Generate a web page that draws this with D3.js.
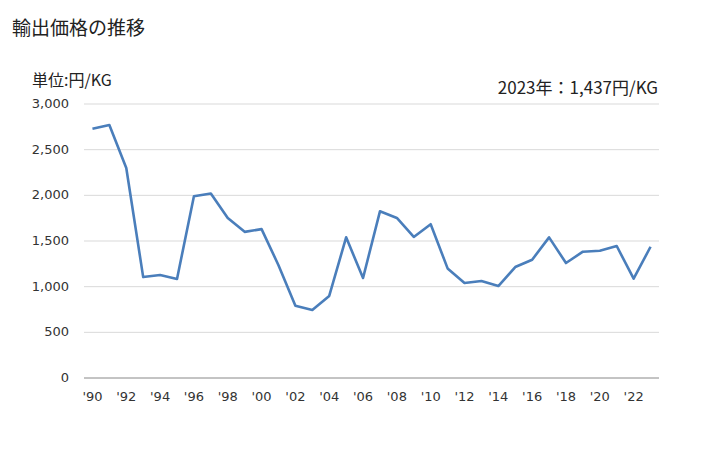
<!DOCTYPE html>
<html><head><meta charset="utf-8">
<script src="https://cdn.jsdelivr.net/npm/d3@7"></script>
<style>body{margin:0;background:#fff;font-family:"Noto Sans CJK JP","Noto Sans",sans-serif;}</style>
</head><body>
<svg id="c" width="728" height="450"></svg>
<script>
const years = d3.range(1990, 2024);
const values = [2730,2770,2300,1105,1128,1085,1990,2020,1752,1600,1630,1235,790,745,898,1540,1095,1825,1752,1544,1684,1200,1040,1062,1007,1215,1295,1540,1259,1383,1394,1445,1087,1437];
const yTicks = [0,500,1000,1500,2000,2500,3000];
const title = "輸出価格の推移";
const unitLabel = "単位:円/KG";
const note = "2023年：1,437円/KG";

(function(){
const svg = d3.select("#c");
const mL = 84, mR = 659, mT = 104, mB = 378;
const x = d3.scaleBand().domain(years).range([mL, mR]);
const y = d3.scaleLinear().domain([0, 3000]).range([mB, mT]);

svg.append("text").attr("x", 12).attr("y", 35).attr("font-size", 19).attr("fill", "#222").text(title);
svg.append("text").attr("x", 32).attr("y", 86).attr("font-size", 16).attr("fill", "#222").text(unitLabel);
svg.append("text").attr("x", 658).attr("y", 94).attr("text-anchor", "end").attr("font-size", 17).attr("fill", "#222").text(note);

const grid = svg.append("g");
grid.selectAll("line").data(yTicks.filter(d => d > 0)).join("line")
  .attr("x1", mL).attr("x2", mR)
  .attr("y1", d => y(d)).attr("y2", d => y(d))
  .attr("stroke", "#d9d9d9").attr("stroke-width", 1);
svg.append("line").attr("x1", mL).attr("x2", mR).attr("y1", y(0)).attr("y2", y(0))
  .attr("stroke", "#888").attr("stroke-width", 1);

svg.append("g").selectAll("text").data(yTicks).join("text")
  .attr("x", 69).attr("y", d => y(d) + 4).attr("text-anchor", "end")
  .attr("font-size", 13).attr("font-family", "Verdana, 'DejaVu Sans', sans-serif").attr("fill", "#333")
  .text(d => d3.format(",")(d));

svg.append("g").selectAll("text").data(years.filter(yr => yr % 2 === 0)).join("text")
  .attr("x", d => x(d) + x.bandwidth() / 2).attr("y", 401).attr("text-anchor", "middle")
  .attr("font-size", 13).attr("font-family", "Verdana, 'DejaVu Sans', sans-serif").attr("fill", "#333")
  .text(d => "'" + String(d).slice(2));

const line = d3.line().x((d, i) => x(years[i]) + x.bandwidth() / 2).y(d => y(d));
svg.append("path").datum(values).attr("d", line)
  .attr("fill", "none").attr("stroke", "#4a7ebb").attr("stroke-width", 2.6).attr("stroke-linejoin", "round");
})();
</script>
</body></html>
